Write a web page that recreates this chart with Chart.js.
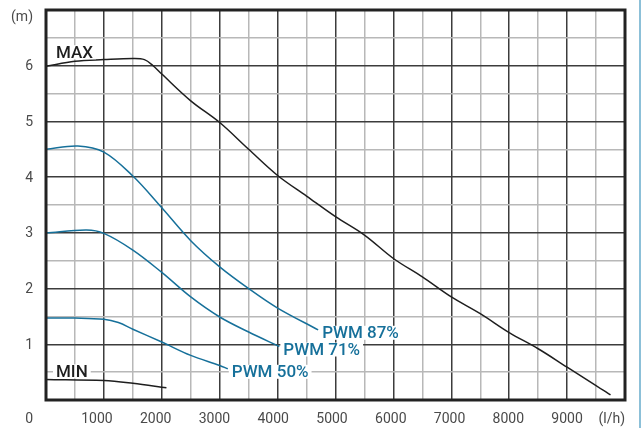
<!DOCTYPE html>
<html>
<head>
<meta charset="utf-8">
<script src="https://cdn.jsdelivr.net/npm/chart.js@4"></script>
<style>
  body { margin: 0; background: #fff; }
  #chart { display: block; }
</style>
</head>
<body>
<canvas id="chart" width="642" height="428"></canvas>
<script>
// Pump curves: flow (l/h) vs head (m)
const maxFlow = [0, 500, 1000, 1500, 1700, 1850, 2000, 2500, 3000, 3500, 4000, 4500, 5000, 5500, 6000, 6500, 7000, 7500, 8000, 8500, 9000, 9500, 9750];
const maxHead = [5.99, 6.08, 6.11, 6.13, 6.11, 6.0, 5.85, 5.37, 4.98, 4.50, 4.03, 3.66, 3.29, 2.96, 2.54, 2.21, 1.85, 1.55, 1.21, 0.92, 0.59, 0.26, 0.09];

const pwm87Flow = [0, 550, 1000, 1500, 2000, 2500, 3000, 3500, 4000, 4700];
const pwm87Head = [4.50, 4.56, 4.45, 4.02, 3.45, 2.86, 2.39, 2.0, 1.65, 1.26];

const pwm71Flow = [0, 700, 1000, 1500, 2000, 2500, 3000, 3500, 4030];
const pwm71Head = [3.0, 3.05, 2.99, 2.69, 2.29, 1.85, 1.49, 1.22, 0.96];

const pwm50Flow = [0, 500, 1000, 1250, 1500, 2000, 2500, 3000, 3140];
const pwm50Head = [1.47, 1.47, 1.45, 1.39, 1.27, 1.04, 0.80, 0.62, 0.56];

const minFlow = [0, 1000, 1500, 2080];
const minHead = [0.37, 0.35, 0.30, 0.22];

const seriesNames = ['MAX', 'PWM 87%', 'PWM 71%', 'PWM 50%', 'MIN'];

// Axis labels
const xTickValues = [1000, 2000, 3000, 4000, 5000, 6000, 7000, 8000, 9000];
const yTickValues = [1, 2, 3, 4, 5, 6];
const xUnit = '(l/h)';
const yUnit = '(m)';

const BLACK = '#1e1e1e';
const BLUE = '#16709a';
const FONT = 'Roboto, "DejaVu Sans", sans-serif';

function pts(xs, ys) {
    return xs.map((x, i) => ({ x: x, y: ys[i] }));
}

function curve(label, xs, ys, color) {
    return {
        label: label,
        data: pts(xs, ys),
        borderColor: color,
        borderWidth: 1.5,
        pointRadius: 0,
        showLine: true,
        tension: 0.35
    };
}

// Frame, tick labels and curve names
const decorPlugin = {
    id: 'decor',
    afterDatasetsDraw(chart) {
        const ctx = chart.ctx;
        const area = chart.chartArea;
        const xs = chart.scales.x;
        const ys = chart.scales.y;
        ctx.save();

        // frame
        ctx.strokeStyle = '#222';
        ctx.lineWidth = 3;
        ctx.strokeRect(area.left, area.top, area.right - area.left, area.bottom - area.top);

        // thin blue edge on the right of the picture
        ctx.strokeStyle = '#8cc0d8';
        ctx.lineWidth = 2;
        ctx.beginPath();
        ctx.moveTo(chart.width - 2, 0);
        ctx.lineTo(chart.width - 2, chart.height);
        ctx.stroke();

        // tick labels
        ctx.fillStyle = '#4a4a4a';
        ctx.font = '14px ' + FONT;
        ctx.textBaseline = 'middle';
        const labelY = area.bottom + 19;
        ctx.textAlign = 'center';
        xTickValues.forEach(v => {
            const shift = 7 * (9000 - v) / 8000;
            ctx.fillText(String(v), xs.getPixelForValue(v) - shift, labelY);
        });
        ctx.textAlign = 'right';
        ctx.fillText('0', area.left - 13, labelY);
        ctx.fillText(xUnit, area.right, labelY);
        yTickValues.forEach(v => {
            ctx.fillText(String(v), area.left - 13, ys.getPixelForValue(v) + 1);
        });
        ctx.fillText(yUnit, area.left - 13, area.top + 7);

        // curve names
        ctx.font = '500 17px ' + FONT;
        ctx.textAlign = 'left';
        chart.data.datasets.forEach((ds, i) => {
            const meta = chart.getDatasetMeta(i);
            const name = seriesNames[i];
            let tx, ty;
            if (name === 'MAX' || name === 'MIN') {
                const p = meta.data[0];
                tx = p.x + 10;
                ty = name === 'MAX' ? p.y - 14 : p.y - 8;
            } else {
                const p = meta.data[meta.data.length - 1];
                tx = p.x + 4;
                ty = p.y + 3;
            }
            const w = ctx.measureText(name).width;
            ctx.fillStyle = '#fff';
            ctx.fillRect(tx - 3, ty - 7, w + 6, 14);
            ctx.fillStyle = ds.borderColor;
            ctx.fillText(name, tx, ty + 1);
        });

        ctx.restore();
    }
};

new Chart(document.getElementById('chart'), {
    type: 'scatter',
    data: {
        datasets: [
            curve(seriesNames[0], maxFlow, maxHead, BLACK),
            curve(seriesNames[1], pwm87Flow, pwm87Head, BLUE),
            curve(seriesNames[2], pwm71Flow, pwm71Head, BLUE),
            curve(seriesNames[3], pwm50Flow, pwm50Head, BLUE),
            curve(seriesNames[4], minFlow, minHead, BLACK)
        ]
    },
    options: {
        responsive: false,
        animation: false,
        layout: { padding: { left: 46, right: 17, top: 10, bottom: 28 } },
        plugins: {
            legend: { display: false },
            tooltip: { enabled: false }
        },
        scales: {
            x: {
                type: 'linear',
                min: 0,
                max: 10000,
                ticks: { stepSize: 500, display: false },
                border: { display: false },
                grid: {
                    drawTicks: false,
                    lineWidth: 1.5,
                    color: c => (c.tick && c.tick.value % 1000 === 0) ? '#3c3c3c' : '#b8b8b8'
                }
            },
            y: {
                type: 'linear',
                min: 0,
                max: 7,
                ticks: { stepSize: 0.5, display: false },
                border: { display: false },
                grid: {
                    drawTicks: false,
                    lineWidth: 1.5,
                    color: c => (c.tick && c.tick.value % 1 === 0) ? '#3c3c3c' : '#b8b8b8'
                }
            }
        }
    },
    plugins: [decorPlugin]
});
</script>
</body>
</html>
